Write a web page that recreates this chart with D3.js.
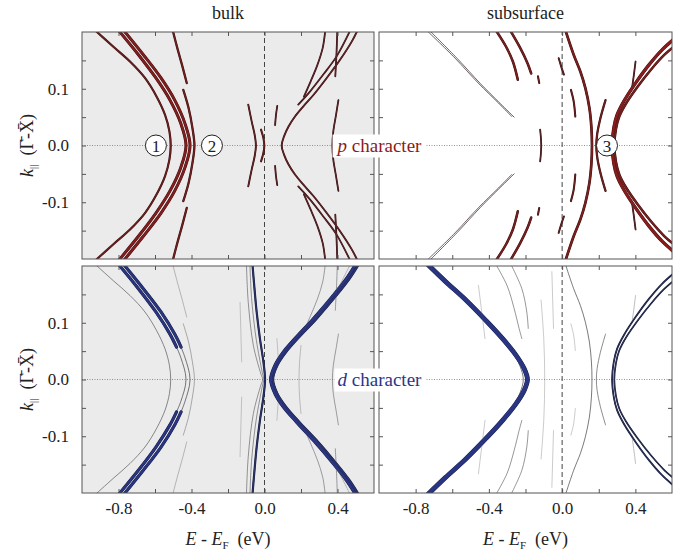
<!DOCTYPE html>
<html>
<head>
<meta charset="utf-8">
<script src="https://cdn.jsdelivr.net/npm/d3@7"></script>
<style>
  body { margin: 0; background: #fff; }
  svg text { font-family: "Liberation Serif", Tinos, "Times New Roman", Times, "DejaVu Serif", serif; fill: #222; }
</style>
</head>
<body>
<div id="chart"></div>
<script>
const width = 676;
const height = 552;
const serif = '"Liberation Serif", Tinos, "Times New Roman", Times, "DejaVu Serif", serif';

// axis ticks
const eTicks = [-0.8, -0.6, -0.4, -0.2, 0, 0.2, 0.4];
const eLabels = [-0.8, -0.4, 0, 0.4];
const kTicks = [-0.15, -0.1, -0.05, 0, 0.05, 0.1, 0.15];
const kLabels = [-0.1, 0, 0.1];
const columnTitles = ["bulk", "subsurface"];

// bands: w = orbital weight, pts = [E, k] for k >= 0 (mirrored to k < 0)
const pBulk = [
  {w: 0.55, pts: [[-0.935,0.205],[-0.828,0.174],[-0.737,0.148],[-0.655,0.119],[-0.591,0.086],[-0.545,0.054],[-0.521,0.025],[-0.514,0]]},
  {w: 0.85, pts: [[-0.800,0.203],[-0.691,0.160],[-0.595,0.119],[-0.518,0.080],[-0.459,0.039],[-0.430,0]]},
  {w: 0.85, pts: [[-0.772,0.203],[-0.664,0.160],[-0.567,0.119],[-0.492,0.080],[-0.436,0.039],[-0.408,0]]},
  {w: 0.6,  pts: [[-0.503,0.203],[-0.478,0.172],[-0.452,0.142],[-0.426,0.110]]},
  {w: 0.6,  pts: [[-0.445,0.098],[-0.416,0.066],[-0.395,0.031],[-0.384,0]]},
  {w: 0.45, pts: [[-0.089,0.072],[-0.070,0.042],[-0.054,0.019],[-0.047,0]]},
  {w: 0.5,  pts: [[-0.019,0.028],[-0.006,0.013],[-0.001,0]]},
  {w: 0.4,  pts: [[0.070,0.070],[0.063,0.054],[0.058,0.036]]},
  {w: 0.45, pts: [[0.510,0.203],[0.478,0.183],[0.414,0.151],[0.341,0.119],[0.268,0.089],[0.213,0.069],[0.167,0.051],[0.131,0.033],[0.107,0.016],[0.094,0]]},
  {w: 0.4,  pts: [[0.333,0.203],[0.319,0.172],[0.290,0.142],[0.253,0.113],[0.216,0.086]]},
  {w: 0.4,  pts: [[0.399,0.203],[0.395,0.166],[0.388,0.122]]},
  {w: 0.4,  pts: [[0.470,0.203],[0.395,0.157],[0.322,0.125],[0.249,0.095],[0.185,0.072]]},
  {w: 0.4,  pts: [[0.405,0.080],[0.392,0.054],[0.377,0.025],[0.372,0]]}
];

const pSub = [
  {w: 0.3,  pts: [[-0.740,0.203],[-0.585,0.154],[-0.458,0.110],[-0.348,0.075],[-0.275,0.051]]},
  {w: 0.3,  pts: [[-0.725,0.203],[-0.572,0.153],[-0.446,0.109],[-0.338,0.074],[-0.262,0.050]]},
  {w: 0.7,  pts: [[-0.362,0.203],[-0.306,0.174],[-0.269,0.148],[-0.242,0.116]]},
  {w: 0.7,  pts: [[-0.284,0.203],[-0.229,0.172],[-0.189,0.145],[-0.169,0.127]]},
  {w: 0.5,  pts: [[-0.132,0.122],[-0.125,0.110]]},
  {w: 0.4,  pts: [[-0.120,0.028],[-0.116,0.014],[-0.114,0]]},
  {w: 0.45, pts: [[-0.019,0.154],[-0.005,0.139],[0.010,0.125]]},
  {w: 0.75, pts: [[0.018,0.203],[0.063,0.160],[0.100,0.130],[0.127,0.101],[0.149,0.066],[0.160,0.031],[0.163,0]]},
  {w: 0.5,  pts: [[0.048,0.098],[0.063,0.078],[0.072,0.051]]},
  {w: 0.6,  pts: [[0.237,0.080],[0.209,0.048],[0.191,0.019],[0.187,0]]},
  {w: 0.95, pts: [[0.620,0.190],[0.547,0.169],[0.474,0.142],[0.401,0.110],[0.337,0.078],[0.300,0.054],[0.282,0.031],[0.273,0]]},
  {w: 0.7,  pts: [[0.632,0.180],[0.559,0.160],[0.486,0.134],[0.413,0.104],[0.349,0.074],[0.312,0.051],[0.294,0.029],[0.285,0]]},
  {w: 0.4,  pts: [[0.401,0.148],[0.392,0.125],[0.383,0.104]]}
];

const dBulk = [
  {w: 0.22, pts: [[-0.935,0.205],[-0.828,0.174],[-0.737,0.148],[-0.655,0.119],[-0.591,0.086],[-0.545,0.054],[-0.521,0.025],[-0.514,0]]},
  {w: 0.25, pts: [[-0.485,0.059],[-0.459,0.039],[-0.430,0]]},
  {w: 0.25, pts: [[-0.460,0.059],[-0.436,0.039],[-0.408,0]]},
  {w: 0.9,  pts: [[-0.800,0.203],[-0.691,0.160],[-0.595,0.119],[-0.518,0.080],[-0.482,0.057]]},
  {w: 0.9,  pts: [[-0.772,0.203],[-0.664,0.160],[-0.567,0.119],[-0.492,0.080],[-0.457,0.057]]},
  {w: 0.12, pts: [[-0.503,0.203],[-0.478,0.172],[-0.452,0.142],[-0.426,0.110]]},
  {w: 0.15, pts: [[-0.445,0.098],[-0.416,0.066],[-0.395,0.031],[-0.384,0]]},
  {w: 0.2,  pts: [[-0.099,0.203],[-0.089,0.136],[-0.061,0.060],[-0.020,0.010],[-0.010,0]]},
  {w: 0.2,  pts: [[-0.080,0.203],[-0.070,0.140],[-0.045,0.070],[-0.012,0.012],[-0.004,0]]},
  {w: 0.08, pts: [[-0.134,0.136],[-0.125,0.031]]},
  {w: 0.1,  pts: [[0.200,0.060],[0.192,0.030],[0.189,0]]},
  {w: 0.08, pts: [[0.068,0.072],[0.075,0.040]]},
  {w: 0.18, pts: [[0.405,0.080],[0.392,0.054],[0.377,0.025],[0.372,0]]},
  {w: 0.18, pts: [[0.333,0.203],[0.319,0.172],[0.290,0.142],[0.253,0.113],[0.216,0.086]]},
  {w: 0.18, pts: [[0.399,0.203],[0.395,0.166],[0.388,0.122]]},
  {w: 0.12, pts: [[0.470,0.203],[0.395,0.157],[0.322,0.125],[0.249,0.095]]},
  {w: 0.55, pts: [[-0.066,0.203],[-0.058,0.172],[-0.043,0.119],[-0.025,0.072],[-0.006,0.031],[0.003,0]]},
  {w: 0.95, pts: [[0.500,0.203],[0.450,0.178],[0.377,0.148],[0.268,0.107],[0.176,0.075],[0.103,0.048],[0.058,0.025],[0.034,0]]},
  {w: 0.7,  pts: [[0.516,0.203],[0.466,0.178],[0.393,0.148],[0.284,0.107],[0.190,0.075],[0.117,0.048],[0.070,0.025],[0.046,0]]}
];

const dSub = [
  {w: 0.25, pts: [[-0.285,0.060],[-0.245,0.035],[-0.218,0.012],[-0.212,0]]},
  {w: 0.2,  pts: [[-0.362,0.203],[-0.300,0.165],[-0.262,0.125],[-0.235,0.090],[-0.220,0.072]]},
  {w: 0.2,  pts: [[-0.280,0.203],[-0.220,0.160],[-0.193,0.119],[-0.185,0.090]]},
  {w: 0.08, pts: [[-0.457,0.166],[-0.421,0.072]]},
  {w: 0.08, pts: [[-0.115,0.140],[-0.100,0.070],[-0.095,0]]},
  {w: 0.08, pts: [[-0.056,0.190],[-0.047,0.090]]},
  {w: 0.25, pts: [[0.018,0.203],[0.063,0.160],[0.100,0.130],[0.127,0.101],[0.149,0.066],[0.160,0.031],[0.163,0]]},
  {w: 0.22, pts: [[0.237,0.080],[0.209,0.048],[0.191,0.019],[0.187,0]]},
  {w: 0.4,  pts: [[0.620,0.190],[0.547,0.169],[0.474,0.142],[0.401,0.110],[0.337,0.078],[0.300,0.054],[0.282,0.031],[0.273,0]]},
  {w: 0.35, pts: [[0.632,0.180],[0.559,0.160],[0.486,0.134],[0.413,0.104],[0.349,0.074],[0.312,0.051],[0.294,0.029],[0.285,0]]},
  {w: 0.12, pts: [[0.401,0.148],[0.392,0.125],[0.383,0.104]]},
  {w: 0.08, pts: [[0.048,0.098],[0.063,0.078],[0.072,0.051]]},
  {w: 1.0,  pts: [[-0.740,0.203],[-0.640,0.172],[-0.531,0.140],[-0.421,0.104],[-0.330,0.072],[-0.257,0.043],[-0.211,0.019],[-0.193,0]]},
  {w: 0.9,  pts: [[-0.728,0.203],[-0.628,0.172],[-0.519,0.140],[-0.410,0.104],[-0.319,0.072],[-0.247,0.043],[-0.202,0.019],[-0.185,0]]}
];

// circled labels on k = 0
const markers = [
  {col: 0, row: 0, E: -0.595, label: "1"},
  {col: 0, row: 0, E: -0.288, label: "2"},
  {col: 1, row: 0, E: 0.245, label: "3"}
];

const characters = [
  {row: 0, letter: "p", color: "#8b1c1c"},
  {row: 1, letter: "d", color: "#2a3688"}
];

const panels = [
  {col: 0, row: 0, bands: pBulk, bg: "#ebebeb"},
  {col: 1, row: 0, bands: pSub,  bg: "#ffffff"},
  {col: 0, row: 1, bands: dBulk, bg: "#ebebeb"},
  {col: 1, row: 1, bands: dSub,  bg: "#ffffff"}
];

const colX = [[82, 374], [379, 672]];
const rowY = [[32, 259], [266, 493]];

const svg = d3.select("#chart")
  .append("svg")
    .attr("width", width)
    .attr("height", height)
    .attr("viewBox", [0, 0, width, height]);

const xScale = c => d3.scaleLinear().domain([-1.0, 0.6]).range(colX[c]);
const yScale = r => d3.scaleLinear().domain([-0.2, 0.2]).range([rowY[r][1], rowY[r][0]]);

function mirrored(pts) {
  const low = pts.map(([e, k]) => [e, -k]);
  if (pts[pts.length - 1][1] === 0) return [pts.concat(low.slice(0, -1).reverse())];
  return [pts, low];
}

panels.forEach((p, i) => {
  const x = xScale(p.col), y = yScale(p.row);
  const ch = characters[p.row];
  const g = svg.append("g");

  g.append("rect")
    .attr("x", x.range()[0]).attr("y", y.range()[1])
    .attr("width", x.range()[1] - x.range()[0])
    .attr("height", y.range()[0] - y.range()[1])
    .attr("fill", p.bg);

  svg.append("clipPath").attr("id", "clip" + i)
    .append("rect")
      .attr("x", x.range()[0]).attr("y", y.range()[1])
      .attr("width", x.range()[1] - x.range()[0])
      .attr("height", y.range()[0] - y.range()[1]);

  // reference lines
  g.append("line")
    .attr("x1", x.range()[0]).attr("x2", x.range()[1])
    .attr("y1", y(0)).attr("y2", y(0))
    .attr("stroke", "#777").attr("stroke-width", 0.8)
    .attr("stroke-dasharray", "1,1.5");
  g.append("line")
    .attr("x1", x(0)).attr("x2", x(0))
    .attr("y1", y.range()[0]).attr("y2", y.range()[1])
    .attr("stroke", "#444").attr("stroke-width", 1)
    .attr("stroke-dasharray", "5,3");

  const line = d3.line()
    .x(d => x(d[0])).y(d => y(d[1]))
    .curve(d3.curveCatmullRom.alpha(0.5));

  const widthOf = w => 0.4 + 2.3 * Math.pow(w, 1.5);
  const colorOf = d3.scaleLinear().domain([0, 0.25, 0.5, 1])
    .range(["#b0b0b0", "#3c3c44", d3.interpolateRgb("#2a2a2a", ch.color)(0.6), ch.color]);

  const segs = p.bands.flatMap(b => mirrored(b.pts).map(pts => ({w: b.w, pts})));
  const bands = g.append("g").attr("clip-path", `url(#clip${i})`).attr("fill", "none")
    .attr("stroke-linecap", "round");

  bands.selectAll("path.edge")
    .data(segs.filter(s => s.w >= 0.35))
    .join("path")
      .attr("class", "edge")
      .attr("d", s => line(s.pts))
      .attr("stroke", d3.color(ch.color).darker(2.2))
      .attr("stroke-width", s => widthOf(s.w) + 0.8);

  bands.selectAll("path.core")
    .data(segs)
    .join("path")
      .attr("class", "core")
      .attr("d", s => line(s.pts))
      .attr("stroke", s => colorOf(s.w))
      .attr("stroke-width", s => widthOf(s.w));

  // axes with inward ticks
  const fmtE = v => eLabels.some(l => Math.abs(l - v) < 1e-9) ? v.toFixed(1) : "";
  const fmtK = v => kLabels.some(l => Math.abs(l - v) < 1e-9) ? v.toFixed(1) : "";
  const bottom = g.append("g").attr("transform", `translate(0,${y.range()[0]})`)
    .call(d3.axisBottom(x).tickValues(eTicks).tickSize(-4).tickPadding(9)
      .tickFormat(p.row === 1 ? fmtE : () => ""));
  const top = g.append("g").attr("transform", `translate(0,${y.range()[1]})`)
    .call(d3.axisTop(x).tickValues(eTicks).tickSize(-4).tickFormat(() => ""));
  const left = g.append("g").attr("transform", `translate(${x.range()[0]},0)`)
    .call(d3.axisLeft(y).tickValues(kTicks).tickSize(-4).tickPadding(13)
      .tickFormat(p.col === 0 ? fmtK : () => ""));
  const right = g.append("g").attr("transform", `translate(${x.range()[1]},0)`)
    .call(d3.axisRight(y).tickValues(kTicks).tickSize(-4).tickFormat(() => ""));
  [bottom, top, left, right].forEach(a => {
    a.attr("font-family", serif);
    a.select(".domain").remove();
    a.selectAll(".tick line").attr("stroke", "#555");
    a.selectAll(".tick text").attr("font-size", 17).attr("fill", "#222");
  });

  g.append("rect")
    .attr("x", x.range()[0]).attr("y", y.range()[1])
    .attr("width", x.range()[1] - x.range()[0])
    .attr("height", y.range()[0] - y.range()[1])
    .attr("fill", "none").attr("stroke", "#555").attr("stroke-width", 1);
});

// column titles and x axis titles
columnTitles.forEach((t, c) => {
  const x = xScale(c);
  const cx = (x.range()[0] + x.range()[1]) / 2;
  svg.append("text").attr("x", cx).attr("y", 19)
    .attr("text-anchor", "middle").attr("font-size", 18).text(t);
  const xt = svg.append("text").attr("x", cx).attr("y", 545)
    .attr("text-anchor", "middle").attr("font-size", 18).style("white-space", "pre");
  xt.append("tspan").attr("font-style", "italic").text("E");
  xt.append("tspan").text(" - ");
  xt.append("tspan").attr("font-style", "italic").text("E");
  xt.append("tspan").attr("font-size", 11).attr("dy", 4).text("F");
  xt.append("tspan").attr("dy", -4).text("  (eV)");
});

// y axis titles
[0, 1].forEach(r => {
  const y = yScale(r);
  const yt = svg.append("text")
    .attr("transform", `translate(33,${y(0)}) rotate(-90)`)
    .attr("text-anchor", "middle").attr("font-size", 18).style("white-space", "pre");
  yt.append("tspan").attr("font-style", "italic").text("k");
  yt.append("tspan").attr("font-size", 11).attr("dy", 4).text("||");
  yt.append("tspan").attr("dy", -4).text("  (\u0393\u0304-X\u0304)");
});

// circled markers
markers.forEach(m => {
  const x = xScale(m.col), y = yScale(m.row);
  svg.append("circle").attr("cx", x(m.E)).attr("cy", y(0)).attr("r", 10.5)
    .attr("fill", "#fff").attr("stroke", "#222").attr("stroke-width", 1);
  svg.append("text").attr("x", x(m.E)).attr("y", y(0) + 6)
    .attr("text-anchor", "middle").attr("font-size", 17).text(m.label);
});

// orbital character labels
characters.forEach(c => {
  const y = yScale(c.row);
  const cx = (colX[0][1] + colX[1][0]) / 2 + 3;
  const box = svg.append("rect").attr("fill", "#fff");
  const t = svg.append("text").attr("x", cx).attr("y", y(0) + 6)
    .attr("text-anchor", "middle").attr("font-size", 19);
  t.append("tspan").attr("font-style", "italic").attr("fill", c.color).text(c.letter);
  t.append("tspan").attr("fill", c.color).text(" character");
  const bb = t.node().getBBox();
  box.attr("x", bb.x - 3).attr("y", y(0) - 11).attr("width", bb.width + 6).attr("height", 23);
});
</script>
</body>
</html>
